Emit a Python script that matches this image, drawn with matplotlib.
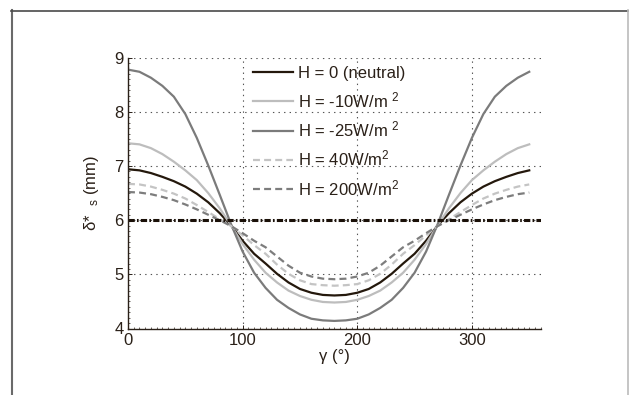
import matplotlib
matplotlib.use('Agg')
import matplotlib.pyplot as plt
from matplotlib.lines import Line2D
from matplotlib.ticker import MultipleLocator
import numpy as np

plt.rcParams['font.family'] = ['Liberation Sans', 'DejaVu Sans']
plt.rcParams['mathtext.default'] = 'regular'
plt.rcParams['lines.scale_dashes'] = False

# wind direction (deg), 0..350 every 10
gamma = list(range(0, 360, 10))

# values for 0..180, mirrored for 190..350
half_neutral = [6.94, 6.92, 6.87, 6.80, 6.72, 6.62, 6.49, 6.33, 6.13, 5.90,
                5.62, 5.38, 5.20, 5.01, 4.85, 4.73, 4.66, 4.62, 4.61]
half_m10 = [7.42, 7.40, 7.33, 7.22, 7.08, 6.92, 6.74, 6.50, 6.22, 5.90,
            5.56, 5.27, 5.03, 4.85, 4.70, 4.60, 4.53, 4.49, 4.48]
half_m25 = [8.78, 8.74, 8.63, 8.48, 8.28, 7.96, 7.52, 7.01, 6.47, 5.92,
            5.42, 5.03, 4.75, 4.53, 4.38, 4.26, 4.18, 4.15, 4.14]
half_p40 = [6.67, 6.66, 6.62, 6.56, 6.49, 6.40, 6.28, 6.15, 6.02, 5.89,
            5.72, 5.54, 5.38, 5.18, 5.01, 4.89, 4.82, 4.80, 4.79]
half_p200 = [6.52, 6.51, 6.48, 6.43, 6.37, 6.29, 6.20, 6.10, 6.00, 5.89,
             5.76, 5.62, 5.50, 5.33, 5.16, 5.03, 4.96, 4.92, 4.91]

neutral = half_neutral + half_neutral[-2:0:-1]
m10 = half_m10 + half_m10[-2:0:-1]
m25 = half_m25 + half_m25[-2:0:-1]
p40 = half_p40 + half_p40[-2:0:-1]
p200 = half_p200 + half_p200[-2:0:-1]
reference_level = 6.0

labels = ['H = 0 (neutral)', 'H = -10W/m $^2$', 'H = -25W/m $^2$',
          'H = 40W/m$^2$', 'H = 200W/m$^2$']

ink = '#2a2018'
fs = 12

fig = plt.figure(figsize=(6.29, 3.95), dpi=100)
ax = fig.add_axes([128 / 629, 1 - 328.5 / 395, (540.7 - 128) / 629, (328.5 - 57.7) / 395])

ax.plot(gamma, neutral, color='#24180c', lw=1.6, label=labels[0])
ax.plot(gamma, m10, color='#bdbdbd', lw=1.6, label=labels[1])
ax.plot(gamma, m25, color='#7b7b7b', lw=1.6, label=labels[2])
ax.plot(gamma, p40, color='#c4c4c4', lw=1.6, dashes=(5, 3), label=labels[3])
ax.plot(gamma, p200, color='#7d7d7d', lw=1.6, dashes=(5, 3), label=labels[4])
ax.axhline(reference_level, color='#1a1008', lw=2.2, dashes=(4.5, 1.6, 1.2, 1.6))

ax.set_xlim(0, 360)
ax.set_ylim(4, 9)
ax.xaxis.set_major_locator(MultipleLocator(100))
ax.yaxis.set_major_locator(MultipleLocator(1))
ax.xaxis.set_minor_locator(MultipleLocator(5))
ax.yaxis.set_minor_locator(MultipleLocator(0.1))
ax.tick_params(which='major', direction='in', length=3, width=0.7, colors=ink,
               labelsize=fs, pad=3)
ax.tick_params(which='minor', direction='in', length=1.5, width=0.5, colors=ink)
for s in ['top', 'right']:
    ax.spines[s].set_visible(False)
for s in ['left', 'bottom']:
    ax.spines[s].set_color(ink)
    ax.spines[s].set_linewidth(1.0)
ax.grid(True, which='major', color='#555555', lw=0.8, dashes=(1, 3))

ax.set_xlabel('γ (°)', fontsize=fs, color=ink, labelpad=1)
ax.set_ylabel('δ*  $_s$ (mm)', fontsize=fs, color=ink, labelpad=10)

leg = ax.legend(loc='upper left', bbox_to_anchor=((253 - 128) / 412.7, 1 - (66 - 57.7) / 270.8),
                frameon=False, fontsize=fs, handlelength=2.4, handletextpad=0.3,
                labelspacing=0.56, borderpad=0, borderaxespad=0)
for t in leg.get_texts():
    t.set_color(ink)

# outer frame
fig.add_artist(Line2D([11.5 / 629, 11.5 / 629], [0, 1 - 10 / 395], color='#6a6a6a', lw=1.5))
fig.add_artist(Line2D([11 / 629, 628 / 629], [1 - 10.5 / 395, 1 - 10.5 / 395], color='#4a4a4a', lw=1.2))
fig.add_artist(Line2D([627.5 / 629, 627.5 / 629], [0, 1 - 10 / 395], color='#bbbbbb', lw=1.2))

fig.savefig('out.png', dpi=100)
